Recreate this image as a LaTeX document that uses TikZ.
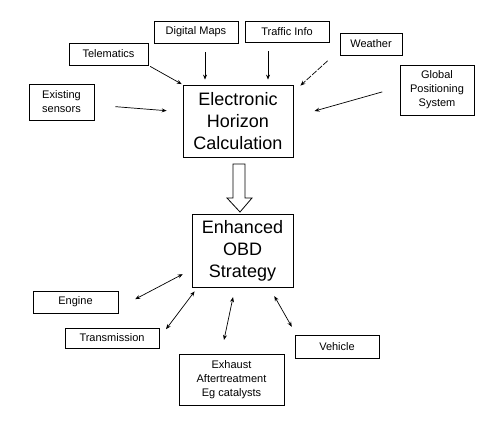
\documentclass[tikz,border=0pt]{standalone}
\usepackage{fontspec}
\setmainfont{Liberation Sans}
\usetikzlibrary{arrows.meta}

\begin{document}
\begin{tikzpicture}[
    x=1pt, y=-1pt,
    >={Stealth[length=5pt,width=4pt]},
    box/.style={
        draw,
        line width=0.8pt,
        align=center,
        inner sep=0pt,
        font=\fontsize{11}{14}\selectfont
    },
    bigbox/.style={
        box,
        font=\fontsize{18}{22}\selectfont
    },
    arrow/.style={->, line width=0.7pt},
    link/.style={<->, line width=0.7pt}
]
\useasboundingbox (0,0) rectangle (500,427);

% inputs
\node (maps) [box, minimum width=84pt, minimum height=22pt] at (196,32) {Digital Maps};
\node (traffic) [box, minimum width=84pt, minimum height=21pt] at (287,31.5) {Traffic Info};
\node (telematics) [box, minimum width=79pt, minimum height=22pt] at (108.5,54) {Telematics};
\node (sensors) [box, minimum width=65pt, minimum height=36pt] at (61.5,102) {Existing\\sensors};
\node (weather) [box, minimum width=62pt, minimum height=22pt] at (371,44) {Weather};
\node (gps) [box, minimum width=74pt, minimum height=50pt] at (437,90) {Global\\Positioning\\System};

% main blocks
\node (horizon) [bigbox, minimum width=110pt, minimum height=72pt] at (238,121)
    {Electronic\\Horizon\\Calculation};
\node (obd) [bigbox, minimum width=101pt, minimum height=73pt] at (242.5,250.5)
    {Enhanced\\OBD\\Strategy};

% outputs
\node (engine) [box, minimum width=85pt, minimum height=22pt] at (75.5,302) {Engine};
\node (transmission) [box, minimum width=94pt, minimum height=20pt] at (112,338) {Transmission};
\node (exhaust) [box, minimum width=105pt, minimum height=51pt] at (231.5,379.5)
    {Exhaust\\Aftertreatment\\Eg catalysts};
\node (vehicle) [box, minimum width=84pt, minimum height=23pt] at (337,346.5) {Vehicle};

\draw[arrow, shorten <=9pt, shorten >=5pt] ([xshift=9pt]maps.south) -- ([xshift=9pt]maps.south |- horizon.north);
\draw[arrow, shorten <=9pt, shorten >=5pt] ([xshift=-19pt]traffic.south) -- ([xshift=-19pt]traffic.south |- horizon.north);
\draw[arrow, shorten <=2pt, shorten >=1pt] (telematics.south east) -- (horizon.north west);
\draw[arrow, shorten <=21pt, shorten >=16pt] ([yshift=-3pt]sensors.east) -- ([yshift=9pt]horizon.west);
\draw[arrow, shorten <=8pt, dashed, dash pattern=on 6pt off 1.5pt] ([xshift=-6pt]weather.south west) -- ([xshift=7pt,yshift=-1pt]horizon.north east);
\draw[arrow, shorten <=18pt, shorten >=22pt] ([yshift=3pt]gps.west) -- ([yshift=4pt]horizon.east);

% hollow arrow
\draw[line width=0.8pt] (233,164) -- (245,164) -- (245,198) -- (252,198) -- (240,212)
    -- (227,198) -- (233,198) -- cycle;

\draw[link, shorten <=19pt, shorten >=10pt] ([yshift=-6pt]engine.east) -- ([yshift=-19pt]obd.west);
\draw[link, shorten <=11pt, shorten >=5pt] (transmission.east) -- ([xshift=6pt]obd.south west);
\draw[link, shorten <=14pt, shorten >=10pt] ([xshift=-10.4pt]exhaust.north) -- ([xshift=-7.4pt]obd.south);
\draw[link, shorten <=10pt, shorten >=9pt] ([xshift=-24pt]obd.south east) -- ([xshift=1.6pt]vehicle.north west);

\end{tikzpicture}
\end{document}
